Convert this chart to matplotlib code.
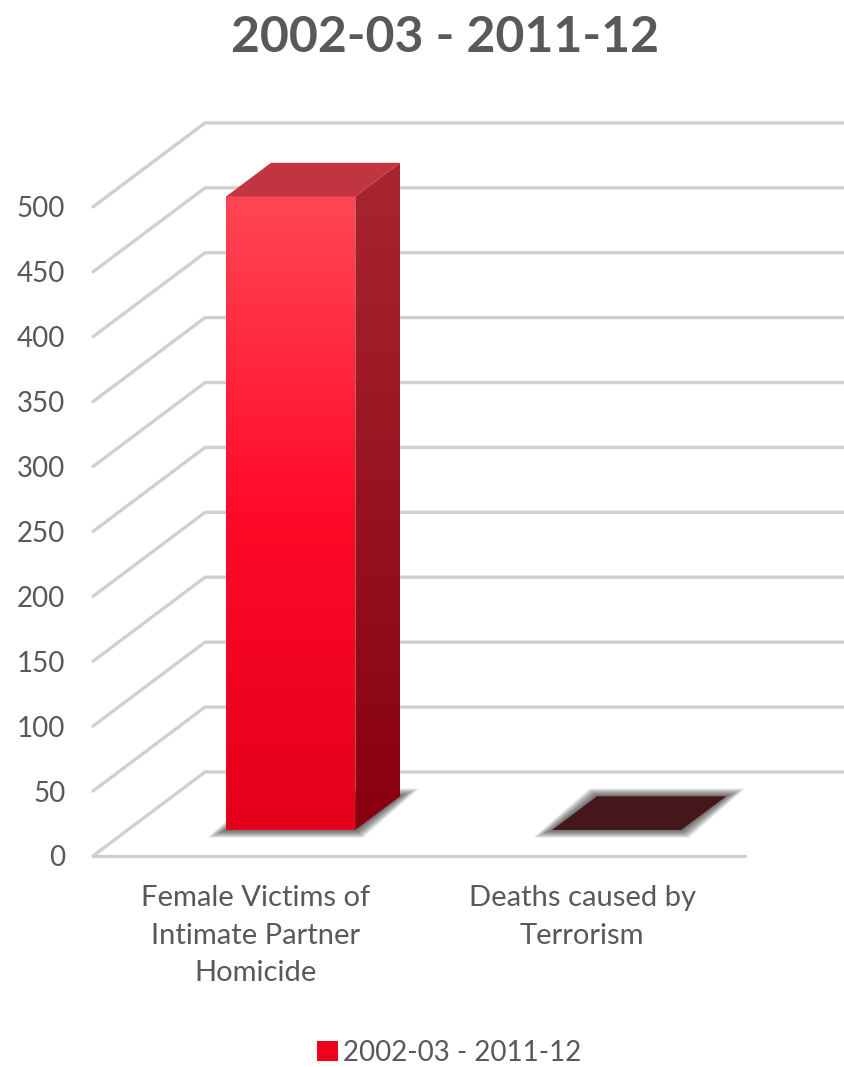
import numpy as np
import matplotlib.pyplot as plt
from matplotlib.patches import Polygon, Patch
from matplotlib.colors import LinearSegmentedColormap

plt.rcParams['font.family'] = ['Lato', 'DejaVu Sans']

# Datos
categorias = ['Female Victims of\nIntimate Partner\nHomicide', 'Deaths caused by\nTerrorism']
valores = [488, 0]
serie = '2002-03 - 2011-12'
yticks = list(range(0, 501, 50))

GRIS = '#595959'
LINEA = '#d0d0d0'

# Perspectiva oblicua: desplazamiento de la pared del fondo (unidades de datos)
DX, DY = 0.3436, 64.7
D0, D1 = 0.31, 0.71   # profundidad de la cara frontal y trasera de las columnas
MEDIO = 0.198         # media anchura de columna

cmap_frente = LinearSegmentedColormap.from_list('frente', ['#e4001a', '#ff0a28', '#ff4655'])
cmap_lado = LinearSegmentedColormap.from_list('lado', ['#880010', '#a8262f'])
grad = np.linspace(1, 0, 256).reshape(-1, 1)

fig = plt.figure(figsize=(8.45, 10.67), dpi=100)
ax = fig.add_axes([0.1101, 0.1978, 0.7716, 0.6083])

# Rejilla: pared lateral y pared del fondo
for v in yticks:
    ax.plot([-0.5, -0.5 + DX, 1.5 + DX], [v, v + DY, v + DY],
            color=LINEA, lw=2.4, solid_capstyle='round', solid_joinstyle='round',
            clip_on=False, zorder=1)
ax.plot([-0.5, 1.5], [0, 0], color=LINEA, lw=2.4, solid_capstyle='round',
        clip_on=False, zorder=1)


def cara_degradada(ax, vertices, extent, cmap):
    # imagen con degradado vertical recortada a un polígono
    poly = Polygon(vertices, closed=True, facecolor='none', edgecolor='none', clip_on=False)
    ax.add_patch(poly)
    im = ax.imshow(grad, extent=extent, aspect='auto', cmap=cmap, vmin=0, vmax=1,
                   zorder=3, interpolation='bilinear')
    im.set_clip_box(fig.bbox)
    im.set_clip_path(poly)


def columna(ax, xc, v):
    x0, x1 = xc - MEDIO, xc + MEDIO
    fx, fy = D0 * DX, D0 * DY
    bx, by = D1 * DX, D1 * DY

    # sombra difusa bajo la base
    for k in range(10):
        e = 0.058 * (1 - k / 10)
        ez = 6 * (1 - k / 10)
        base = [(x0 + fx - e, fy - ez), (x1 + fx + e * 0.4, fy - ez),
                (x1 + bx + e, by + ez), (x0 + bx - e * 0.4, by + ez)]
        ax.add_patch(Polygon(base, closed=True, facecolor='#1a1a1a', edgecolor='none',
                             alpha=0.085, clip_on=False, zorder=2))

    if v > 0:
        cara_degradada(ax, [(x0 + fx, fy), (x1 + fx, fy), (x1 + fx, fy + v), (x0 + fx, fy + v)],
                       (x0 + fx, x1 + fx, fy, fy + v), cmap_frente)
        cara_degradada(ax, [(x1 + fx, fy), (x1 + bx, by), (x1 + bx, by + v), (x1 + fx, fy + v)],
                       (x1 + fx, x1 + bx, fy, by + v), cmap_lado)
        color_tapa = '#c0353f'
    else:
        color_tapa = '#45161a'

    tapa = [(x0 + fx, fy + v), (x1 + fx, fy + v), (x1 + bx, by + v), (x0 + bx, by + v)]
    ax.add_patch(Polygon(tapa, closed=True, facecolor=color_tapa, edgecolor='none',
                         clip_on=False, zorder=4))


for i, v in enumerate(valores):
    columna(ax, i, v)

ax.set_xlim(-0.5, 1.5)
ax.set_ylim(0, 500)
ax.set_yticks(yticks)
ax.set_xticks(range(len(categorias)))
ax.set_xticklabels(categorias, linespacing=1.55)
ax.tick_params(axis='both', length=0, labelsize=20, labelcolor=GRIS)
ax.tick_params(axis='y', pad=20)
ax.tick_params(axis='x', pad=21, labelsize=21)
for s in ax.spines.values():
    s.set_visible(False)
ax.set_facecolor('none')

fig.text(445 / 845, 1 - 37 / 1067, serie, ha='center', va='center',
         fontsize=36, fontweight='bold', color=GRIS)

fig.legend(handles=[Patch(facecolor='#f0001c', edgecolor='none', label=serie)],
           loc='center', bbox_to_anchor=(449 / 845, 1 - 1053 / 1067), frameon=False,
           fontsize=20, labelcolor=GRIS, handlelength=0.75, handleheight=0.75,
           handletextpad=0.2)

fig.savefig('out.png', dpi=100)
